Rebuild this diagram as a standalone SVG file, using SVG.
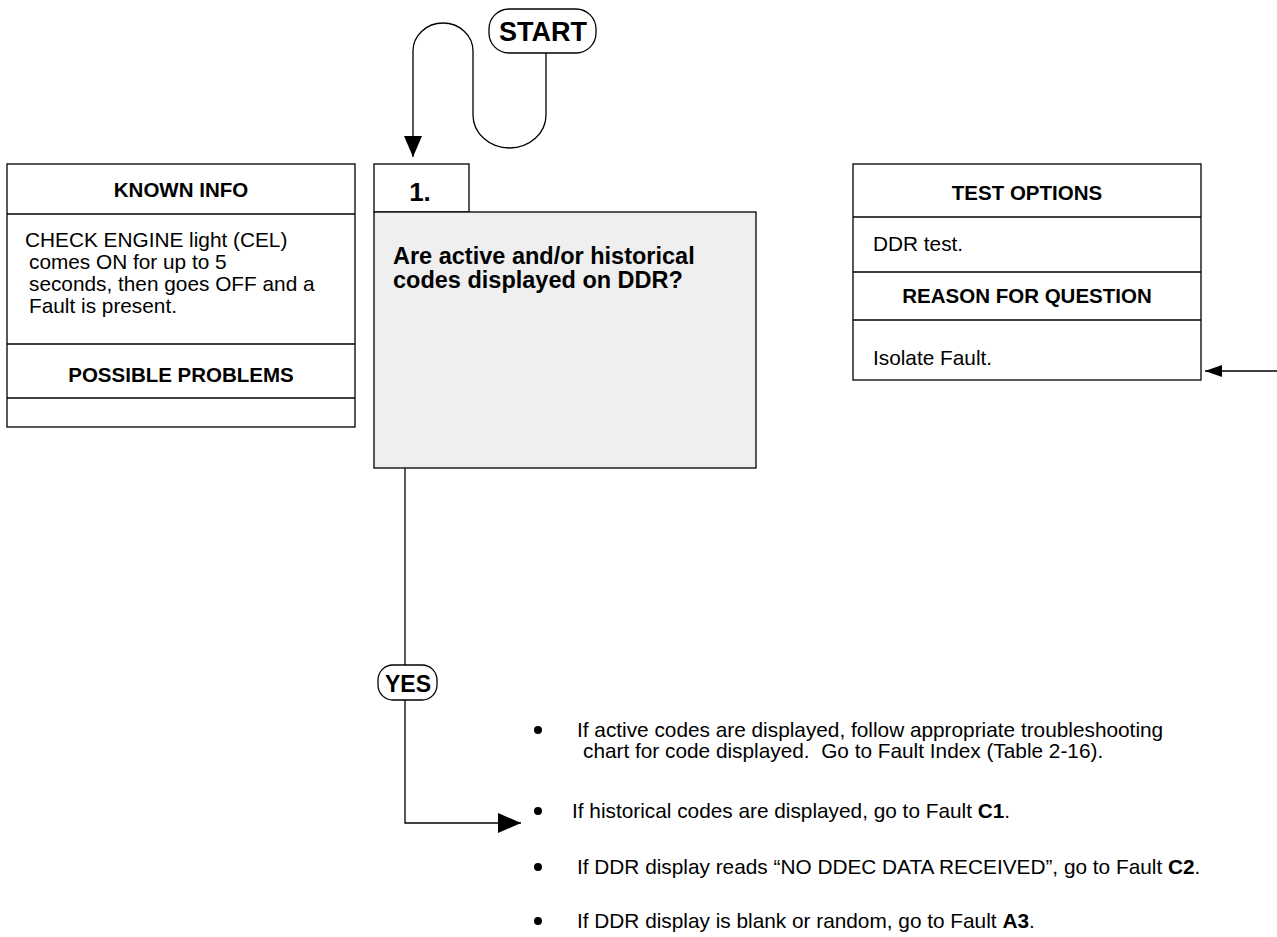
<svg xmlns="http://www.w3.org/2000/svg" width="1277" height="937" viewBox="0 0 1277 937">
  <style>
    .box { fill: #ffffff; stroke: #000000; stroke-width: 1.3; }
    .qbox { fill: #efefef; stroke: #000000; stroke-width: 1.3; }
    .pill { fill: #ffffff; stroke: #000000; stroke-width: 1.3; }
    .line { fill: none; stroke: #000000; stroke-width: 1.3; }
    .sep { stroke: #000000; stroke-width: 1.3; }
    text { font-family: "Liberation Sans", Arial, sans-serif; fill: #000000; }
    .hdr { font-size: 20.5px; font-weight: bold; text-anchor: middle; }
    .body { font-size: 20.8px; }
    .q { font-size: 23.5px; font-weight: bold; }
    .term { font-size: 26px; font-weight: bold; text-anchor: middle; }
    .b { font-weight: bold; }
  </style>
  <defs>
    <marker id="arrowDown" markerWidth="21" markerHeight="18" refX="21" refY="9" orient="auto" markerUnits="userSpaceOnUse">
      <path d="M0,0 L21,9 L0,18 Z" fill="#000000"/>
    </marker>
    <marker id="arrow" markerWidth="23" markerHeight="20" refX="23" refY="10" orient="auto" markerUnits="userSpaceOnUse">
      <path d="M0,0 L23,10 L0,20 Z" fill="#000000"/>
    </marker>
    <marker id="arrowSmall" markerWidth="17" markerHeight="12" refX="17" refY="6" orient="auto" markerUnits="userSpaceOnUse">
      <path d="M0,0 L17,6 L0,12 Z" fill="#000000"/>
    </marker>
  </defs>

  <!-- connectors -->
  <g id="connectors">
    <path class="line" d="M546,53 V115 A36.5,33 0 0 1 473,115 V51 A30,28 0 0 0 413,51 V157" marker-end="url(#arrowDown)"/>
    <path class="line" d="M1277,371 H1205" marker-end="url(#arrowSmall)"/>
    <path class="line" d="M405,468 V665"/>
    <path class="line" d="M405,700 V823 H521" marker-end="url(#arrow)"/>
  </g>

  <!-- start terminal -->
  <g id="start">
    <rect class="pill" x="489" y="9" width="107" height="44" rx="20" ry="20"/>
    <text class="term" x="543" y="41" style="font-size:27px">START</text>
  </g>

  <!-- known info panel -->
  <g id="known-info">
    <rect class="box" x="7" y="164" width="348" height="263"/>
    <line class="sep" x1="7" y1="214" x2="355" y2="214"/>
    <line class="sep" x1="7" y1="344" x2="355" y2="344"/>
    <line class="sep" x1="7" y1="398" x2="355" y2="398"/>
    <text class="hdr" x="181" y="197">KNOWN INFO</text>
    <text class="body" x="25" y="247">CHECK ENGINE light (CEL)</text>
    <text class="body" x="29" y="269">comes ON for up to 5</text>
    <text class="body" x="29" y="291">seconds, then goes OFF and a</text>
    <text class="body" x="29" y="313">Fault is present.</text>
    <text class="hdr" x="181" y="382">POSSIBLE PROBLEMS</text>
  </g>

  <!-- question 1 -->
  <g id="step-1">
    <rect class="box" x="374" y="164" width="95" height="48"/>
    <rect class="qbox" x="374" y="212" width="382" height="256"/>
    <text class="term" x="420" y="201">1.</text>
    <text class="q" x="393" y="264">Are active and/or historical</text>
    <text class="q" x="393" y="288">codes displayed on DDR?</text>
  </g>

  <!-- test options panel -->
  <g id="test-options">
    <rect class="box" x="853" y="164" width="348" height="216"/>
    <line class="sep" x1="853" y1="217" x2="1201" y2="217"/>
    <line class="sep" x1="853" y1="272" x2="1201" y2="272"/>
    <line class="sep" x1="853" y1="320" x2="1201" y2="320"/>
    <text class="hdr" x="1027" y="200">TEST OPTIONS</text>
    <text class="body" x="873" y="251">DDR test.</text>
    <text class="hdr" x="1027" y="303">REASON FOR QUESTION</text>
    <text class="body" x="873" y="365">Isolate Fault.</text>
  </g>

  <!-- yes terminal -->
  <g id="yes">
    <rect class="pill" x="378" y="665" width="59" height="35" rx="15" ry="15"/>
    <text class="term" x="408" y="692" style="font-size:23px">YES</text>
  </g>

  <!-- outcomes -->
  <g id="outcomes">
    <circle cx="538" cy="730" r="4"/>
    <text class="body" x="577" y="737">If active codes are displayed, follow appropriate troubleshooting</text>
    <text class="body" x="583" y="758">chart for code displayed.&#160; Go to Fault Index (Table 2-16).</text>
    <circle cx="538" cy="811" r="4"/>
    <text class="body" x="572" y="818">If historical codes are displayed, go to Fault <tspan class="b">C1</tspan>.</text>
    <circle cx="538" cy="867" r="4"/>
    <text class="body" x="577" y="874">If DDR display reads “NO DDEC DATA RECEIVED”, go to Fault <tspan class="b">C2</tspan>.</text>
    <circle cx="538" cy="921" r="4"/>
    <text class="body" x="577" y="928">If DDR display is blank or random, go to Fault <tspan class="b">A3</tspan>.</text>
  </g>
</svg>
